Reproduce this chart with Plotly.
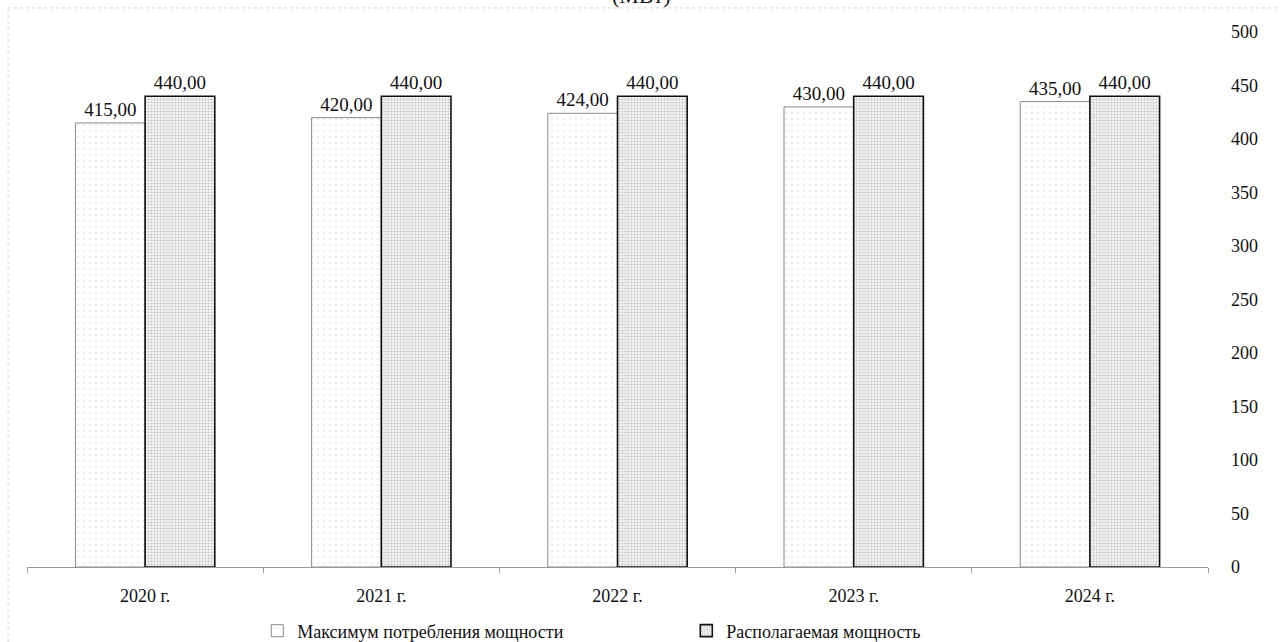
import plotly.graph_objects as go

years = ["2020 г.", "2021 г.", "2022 г.", "2023 г.", "2024 г."]
max_consumption = [415.00, 420.00, 424.00, 430.00, 435.00]
available_power = [440.00, 440.00, 440.00, 440.00, 440.00]
y_ticks = [0, 50, 100, 150, 200, 250, 300, 350, 400, 450, 500]

FONT = "Liberation Serif, DejaVu Serif, serif"

fig = go.Figure()

fig.add_trace(go.Bar(
    name="Максимум потребления мощности",
    x=years, y=max_consumption,
    marker=dict(
        color="#ffffff",
        line=dict(color="#8a8a8a", width=1),
        pattern=dict(shape=".", fgcolor="#c8c8c8", bgcolor="#ffffff",
                     size=6, solidity=0.08),
    ),
    texttemplate="%{y:.2f}", textposition="outside",
    textfont=dict(family=FONT, size=19, color="#111111"),
    cliponaxis=False,
))

fig.add_trace(go.Bar(
    name="Располагаемая мощность",
    x=years, y=available_power,
    marker=dict(
        color="#e2e2e2",
        line=dict(color="#111111", width=1.6),
        pattern=dict(shape=".", fgcolor="#9a9a9a", bgcolor="#f2f2f2",
                     size=3, solidity=0.35),
    ),
    texttemplate="%{y:.2f}", textposition="outside",
    textfont=dict(family=FONT, size=19, color="#111111"),
    cliponaxis=False,
))

fig.update_layout(
    width=1282, height=642,
    margin=dict(l=27, r=74, t=32, b=75, autoexpand=False),
    paper_bgcolor="#ffffff", plot_bgcolor="#ffffff",
    barmode="group", bargap=0.41, bargroupgap=0.0,
    separators=", ",
    font=dict(family=FONT, size=17, color="#111111"),
    showlegend=True,
    legend=dict(
        orientation="h", x=0.195, xanchor="left", y=-0.085, yanchor="top",
        font=dict(family=FONT, size=18, color="#111111"),
        itemwidth=30, entrywidth=384, entrywidthmode="pixels",
    ),
    xaxis=dict(
        showgrid=False, showline=True, linecolor="#9a9a9a", linewidth=1,
        ticks="outside", tickson="boundaries", ticklen=5, tickcolor="#9a9a9a",
        ticklabelstandoff=12,
        tickfont=dict(family=FONT, size=18, color="#111111"),
    ),
    yaxis=dict(
        side="right", range=[0, 500], tickvals=y_ticks,
        showgrid=False, showline=False, zeroline=False,
        ticks="", ticklabelstandoff=22,
        tickfont=dict(family=FONT, size=18, color="#111111"),
    ),
    annotations=[dict(
        text="(МВт)", xref="paper", yref="paper", x=0.52, y=1,
        xanchor="center", yanchor="bottom", yshift=22, showarrow=False,
        font=dict(family=FONT, size=22, color="#111111"),
    )],
    shapes=[
        dict(type="line", xref="paper", yref="paper", x0=-0.016, x1=-0.016,
             y0=-0.14, y1=1.045, line=dict(color="#d4d4d4", width=1, dash="dot")),
        dict(type="line", xref="paper", yref="paper", x0=-0.016, x1=1.06,
             y0=1.045, y1=1.045, line=dict(color="#d4d4d4", width=1, dash="dot")),
    ],
)

fig.write_html("out.html")
